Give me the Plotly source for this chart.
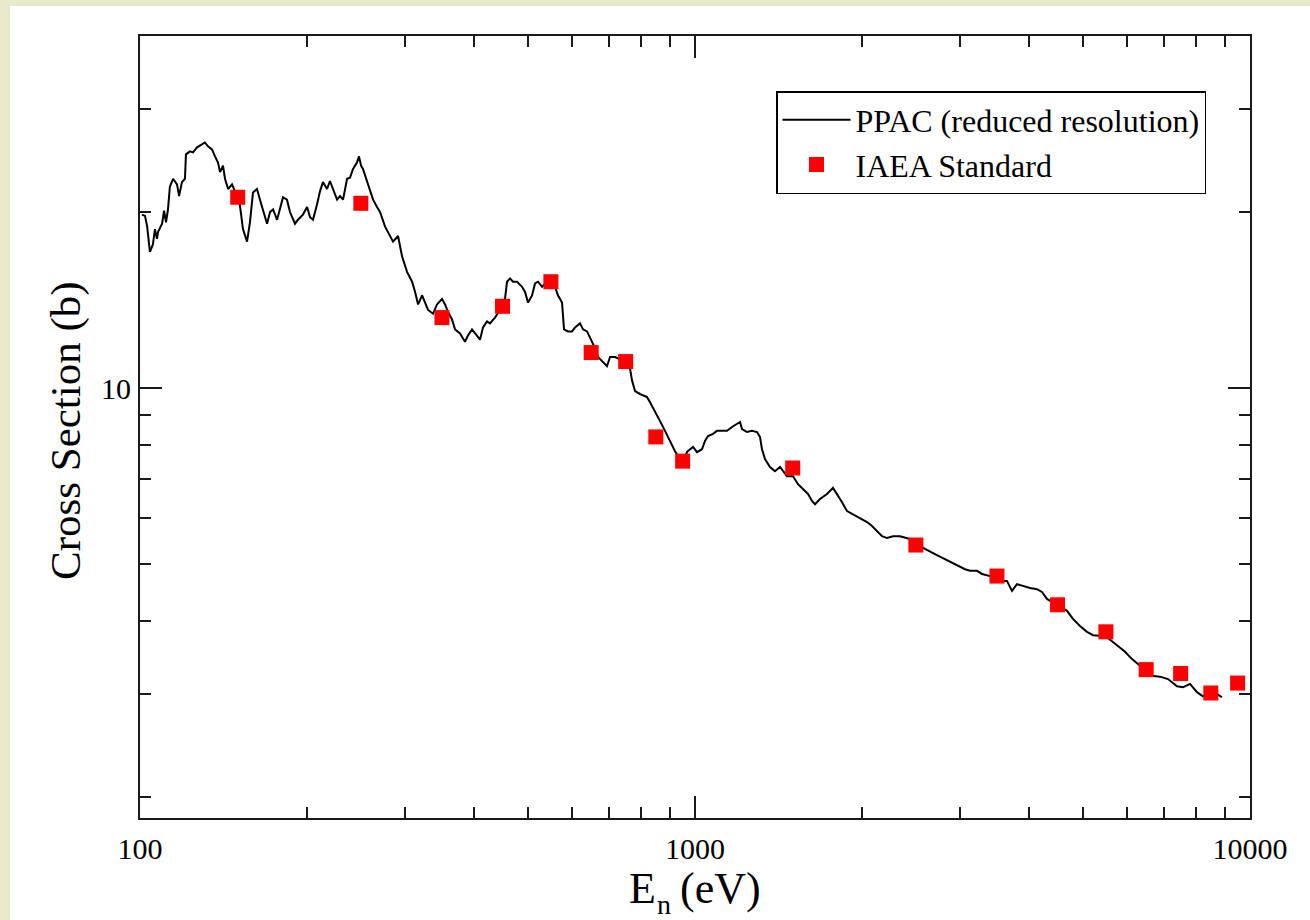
import math
import plotly.graph_objects as go

# PPAC (reduced resolution) cross section trace: neutron energy (eV) and sigma (b)
ppac_energy_ev = [
    100.8, 102.1, 103.0, 104.2, 105.5, 106.4, 107.3, 107.8, 109.6, 110.5,
    111.4, 112.3, 113.2, 114.7, 116.6, 117.6, 119.0, 120.5, 121.0, 123.0,
    124.6, 126.7, 129.3, 130.9, 132.6, 134.8, 136.5, 138.2, 139.4, 141.1,
    142.3, 144.1, 146.5, 148.3, 151.4, 153.3, 155.9, 157.8, 159.8, 162.5,
    164.5, 166.6, 169.4, 171.5, 173.7, 176.6, 178.8, 181.0, 184.0, 186.3,
    190.2, 192.6, 196.6, 200.0, 202.5, 205.0, 208.4, 211.0, 213.6, 217.3,
    219.9, 222.7, 226.5, 229.3, 232.2, 236.1, 239.0, 242.0, 246.0, 248.1,
    250.2, 252.2, 256.5, 259.7, 263.0, 267.3, 270.7, 276.3, 282.2, 285.7,
    291.7, 296.6, 302.8, 309.2, 313.1, 317.0, 322.3, 326.3, 330.4, 337.3,
    342.9, 350.1, 354.5, 358.9, 364.9, 369.5, 377.2, 385.1, 389.9, 396.5,
    401.4, 409.9, 415.0, 421.9, 427.2, 436.1, 445.3, 454.6, 458.5, 464.2,
    470.0, 477.9, 487.9, 494.0, 500.2, 508.6, 515.0, 521.4, 530.2, 541.3,
    559.5, 566.6, 576.0, 580.8, 590.5, 600.4, 607.9, 620.6, 628.4, 638.9,
    646.9, 655.0, 668.7, 682.7, 694.2, 702.9, 717.7, 732.7, 763.7, 770.1,
    779.8, 796.1, 819.6, 829.8, 847.2, 865.0, 883.1, 901.6, 920.4, 939.7,
    955.4, 967.4, 979.5, 991.8, 1008.3, 1029.4, 1042.3, 1055.4, 1077.5, 1095.5,
    1118.5, 1142.0, 1166.0, 1190.4, 1205.3, 1215.4, 1240.8, 1266.8, 1293.3, 1309.5,
    1320.4, 1337.0, 1365.0, 1393.6, 1422.9, 1464.9, 1501.8, 1533.2, 1565.3, 1598.2,
    1625.0, 1645.3, 1679.8, 1729.2, 1772.8, 1802.6, 1840.5, 1879.0, 1918.3, 1958.6,
    1999.6, 2041.6, 2084.3, 2128.0, 2172.6, 2218.1, 2274.3, 2341.0, 2440.0, 2501.0,
    2596.0, 2706.0, 2821.0, 2941.0, 3003.0, 3066.0, 3130.0, 3222.0, 3290.0, 3401.0,
    3543.0, 3648.0, 3725.0, 3803.0, 3899.0, 4014.0, 4132.0, 4218.0, 4307.0, 4500.0,
    4680.0, 4798.0, 4939.0, 5085.0, 5214.0, 5367.0, 5500.0, 5641.0, 5783.0, 5954.0,
    6130.0, 6338.0, 6500.0, 6660.0, 6884.0, 7117.0, 7388.0, 7574.0, 7797.0, 8026.0,
    8228.0, 8500.0, 8718.0, 8902.0,
]
ppac_sigma_b = [
    19.8, 19.7, 18.9, 17.1, 17.6, 18.7, 18.0, 18.5, 19.1, 20.1,
    19.2, 20.2, 22.1, 22.8, 22.3, 21.3, 22.5, 22.8, 25.1, 25.4,
    25.3, 25.8, 26.1, 26.3, 25.9, 25.6, 24.9, 24.3, 23.4, 24.0,
    22.8, 21.9, 22.3, 21.7, 20.5, 18.7, 17.8, 19.2, 21.6, 21.9,
    21.0, 20.2, 19.1, 20.0, 20.2, 19.4, 20.2, 21.2, 21.0, 20.0,
    19.1, 19.4, 19.8, 20.4, 19.6, 19.4, 20.6, 21.7, 22.5, 21.9,
    22.6, 21.9, 21.0, 21.3, 21.0, 22.8, 22.9, 23.7, 24.3, 24.9,
    24.0, 23.7, 22.5, 21.7, 21.0, 20.4, 20.0, 18.9, 18.2, 17.8,
    18.2, 16.8, 15.8, 15.2, 14.6, 13.9, 14.4, 14.0, 13.6, 13.4,
    13.9, 14.2, 13.9, 13.5, 13.1, 12.6, 12.4, 12.0, 12.3, 12.6,
    12.4, 12.1, 12.7, 13.0, 12.9, 13.2, 13.6, 14.2, 15.2, 15.4,
    15.2, 15.2, 14.9, 14.6, 14.0, 14.4, 15.1, 15.2, 14.9, 15.2,
    14.9, 14.4, 14.0, 12.6, 12.5, 12.5, 12.7, 12.9, 12.6, 12.5,
    12.2, 11.9, 11.3, 11.1, 10.9, 11.3, 11.3, 11.2, 10.8, 10.3,
    9.88, 9.77, 9.65, 9.46, 9.13, 8.78, 8.45, 8.12, 7.80, 7.56,
    7.52, 7.78, 7.86, 7.93, 7.77, 7.86, 8.12, 8.28, 8.35, 8.45,
    8.45, 8.45, 8.58, 8.68, 8.75, 8.51, 8.41, 8.45, 8.41, 8.25,
    7.86, 7.56, 7.33, 7.21, 7.33, 7.07, 7.07, 6.85, 6.72, 6.59,
    6.41, 6.33, 6.46, 6.59, 6.75, 6.59, 6.38, 6.16, 6.09, 6.02,
    5.97, 5.90, 5.81, 5.70, 5.58, 5.54, 5.58, 5.58, 5.52, 5.43,
    5.31, 5.20, 5.10, 5.00, 4.94, 4.90, 4.87, 4.87, 4.81, 4.77,
    4.68, 4.68, 4.50, 4.62, 4.59, 4.55, 4.53, 4.48, 4.36, 4.26,
    4.16, 4.03, 3.92, 3.83, 3.78, 3.77, 3.76, 3.69, 3.62, 3.54,
    3.44, 3.35, 3.28, 3.22, 3.21, 3.18, 3.09, 3.08, 3.12, 3.02,
    2.97, 3.01, 3.00, 2.96,
]

# IAEA standard evaluation points
iaea_energy_ev = [150, 250, 350, 450, 550, 650, 750, 850, 950,
                  1500, 2500, 3500, 4500, 5500, 6500, 7500, 8500, 9500]
iaea_sigma_b = [21.2, 20.7, 13.2, 13.8, 15.2, 11.5, 11.1, 8.25, 7.50,
                7.30, 5.39, 4.77, 4.26, 3.83, 3.30, 3.25, 3.01, 3.13]

# Axis ticks
x_major = [100, 1000, 10000]
x_labels = ["100", "1000", "10000"]
x_minor = [200, 300, 400, 500, 600, 700, 800, 900,
           2000, 3000, 4000, 5000, 6000, 7000, 8000, 9000]
y_major = [10]
y_labels = ["10"]
y_minor = [2, 3, 4, 5, 6, 7, 8, 9, 20, 30]

x_range = [100, 10000]
y_range = [1.84, 40]

SERIF = "Liberation Serif, Times New Roman, serif"
AXIS_COLOR = "#1a1a1a"

W, H = 1310, 920
ML, MR, MT, MB = 140, 60, 36, 102
pw, ph = W - ML - MR, H - MT - MB


def px_to_paper_x(px):
    return (px - ML) / pw


def py_to_paper_y(py):
    return (H - MB - py) / ph


fig = go.Figure()

fig.add_trace(go.Scatter(
    x=ppac_energy_ev, y=ppac_sigma_b,
    mode="lines",
    name="PPAC (reduced resolution)",
    line=dict(color="black", width=2),
))

fig.add_trace(go.Scatter(
    x=iaea_energy_ev, y=iaea_sigma_b,
    mode="markers",
    name="IAEA Standard",
    marker=dict(symbol="square", color="#ff0000", size=15, line=dict(width=0)),
))

axis_common = dict(
    type="log",
    showline=True, linecolor=AXIS_COLOR, linewidth=2,
    mirror="ticks",
    ticks="inside", ticklen=22, tickwidth=2, tickcolor=AXIS_COLOR,
    showgrid=False, zeroline=False,
    tickfont=dict(family=SERIF, size=30, color="black"),
)

fig.update_xaxes(
    **axis_common,
    range=[math.log10(x_range[0]), math.log10(x_range[1])],
    tickmode="array", tickvals=x_major, ticktext=x_labels,
    minor=dict(tickmode="array", tickvals=x_minor, ticks="inside",
               ticklen=11, tickwidth=2, tickcolor=AXIS_COLOR, showgrid=False),
    ticklabelstandoff=3,
)

fig.update_yaxes(
    **axis_common,
    range=[math.log10(y_range[0]), math.log10(y_range[1])],
    tickmode="array", tickvals=y_major, ticktext=y_labels,
    minor=dict(tickmode="array", tickvals=y_minor, ticks="inside",
               ticklen=11, tickwidth=2, tickcolor=AXIS_COLOR, showgrid=False),
    ticklabelstandoff=1,
)

title_font = dict(family=SERIF, size=44, color="black")
annotations = [
    # y-axis title
    dict(text="Cross Section (b)", textangle=-90,
         xref="paper", yref="paper",
         x=px_to_paper_x(66), y=py_to_paper_y(431),
         xanchor="center", yanchor="middle", showarrow=False,
         font=dict(family=SERIF, size=43, color="black")),
    # x-axis title: E, lowered subscript n, (eV)
    dict(text="E", xref="paper", yref="paper",
         x=px_to_paper_x(658), y=py_to_paper_y(888),
         xanchor="right", yanchor="middle", showarrow=False, font=title_font),
    dict(text="n", xref="paper", yref="paper",
         x=px_to_paper_x(664), y=py_to_paper_y(904),
         xanchor="center", yanchor="middle", showarrow=False,
         font=dict(family=SERIF, size=28, color="black")),
    dict(text="(eV)", xref="paper", yref="paper",
         x=px_to_paper_x(678), y=py_to_paper_y(888),
         xanchor="left", yanchor="middle", showarrow=False, font=title_font),
]

fig.update_layout(
    width=W, height=H,
    margin=dict(l=ML, r=MR, t=MT, b=MB, autoexpand=False),
    paper_bgcolor="#e9e9cb",
    plot_bgcolor="white",
    font=dict(family=SERIF, color="black"),
    # white page area inside the beige frame on the top and left edges
    shapes=[
        dict(type="rect", xref="paper", yref="paper", layer="below",
             x0=px_to_paper_x(10), x1=px_to_paper_x(W),
             y0=py_to_paper_y(H), y1=py_to_paper_y(6),
             fillcolor="white", line=dict(width=0)),
    ],
    annotations=annotations,
    showlegend=True,
    legend=dict(
        x=px_to_paper_x(776), y=py_to_paper_y(91),
        xanchor="left", yanchor="top",
        bgcolor="white", bordercolor="black", borderwidth=1.5,
        font=dict(family=SERIF, size=32, color="black"),
        itemwidth=68,
        tracegroupgap=0,
    ),
)

fig.write_html("out.html", config={"displayModeBar": False})
